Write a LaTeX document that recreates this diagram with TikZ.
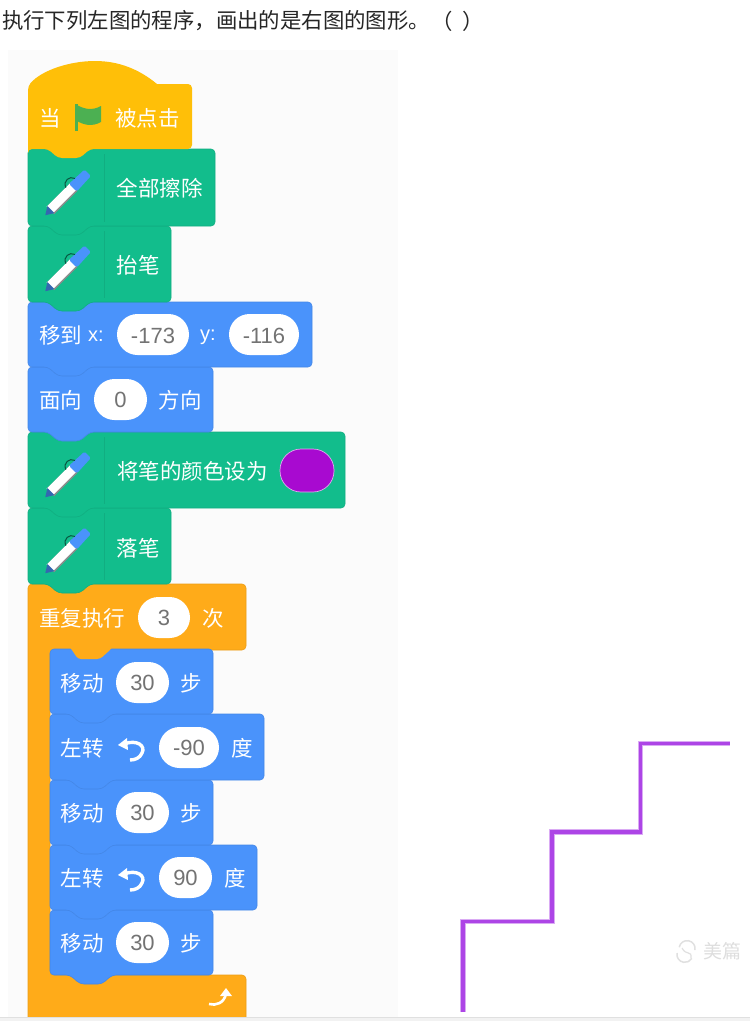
\documentclass[tikz,border=0pt]{standalone}
\usepackage{fontspec}
\setmainfont{Liberation Sans}
\newfontfamily\cjk{Noto Sans CJK SC}
\definecolor{cgreen}{HTML}{12BD8C}
\definecolor{cblue}{HTML}{4A93FB}
\definecolor{corange}{HTML}{FFAB19}
\definecolor{cyellow}{HTML}{FFBF08}
\definecolor{cpurple}{HTML}{A80AD0}
\definecolor{cstair}{HTML}{AD45E6}
\definecolor{cflag}{HTML}{4CB052}
\tikzset{
  lab/.style={inner sep=0pt,text=white,font=\cjk\fontsize{21.5}{24}\selectfont},
  lat/.style={inner sep=0pt,text=white,font=\fontsize{20}{24}\selectfont},
  title/.style={inner sep=0pt,anchor=west,text=black!85,font=\cjk\fontsize{21.4}{24}\selectfont},
  pill/.style={fill=white,rounded corners=20.5pt},
  pilltext/.style={inner sep=0pt,text=black!55,font=\fontsize{22}{24}\selectfont},
  blk/.style={fill=#1,draw=#1!92!black,line width=0.6pt,rounded corners=4pt},
}
% left, top, right, bottom, colour
\newcommand{\stackblock}[5]{%
  \path[blk=#5] (#1,#2) -- (#3,#2) -- (#3,#4)
    -- ({#1+62},#4) -- ({#1+52},{#4+9}) -- ({#1+30},{#4+9}) -- ({#1+20},#4)
    -- (#1,#4) -- cycle;}
% pill: left, top, right, bottom
\newcommand{\valuepill}[4]{\fill[pill] (#1,#2) rectangle (#3,#4);}
\newcommand{\penicon}[1]{%
  \begin{scope}[shift={(66.5,#1)},x={(0.707pt,0.707pt)},y={(-0.707pt,0.707pt)}]
    \fill[black!45] (-23,-5.5) -- (10,-5.5) -- (10,5) -- (-23,5) -- cycle;
    \fill[white] (-23,-4) -- (10,-4) -- (10,5) -- (-23,5) -- cycle;
    \fill[cblue!70!black] (-30,0) -- (-22,-5) -- (-22,5) -- cycle;
    \fill[cblue,rounded corners=1.5pt] (9,-5.5) -- (30,-4.5) -- (30,4.5) -- (9,5.5) -- cycle;
    \draw[black!55!cgreen,line width=1pt] (4,5) .. controls (7,12) and (15,11) .. (17,5);
  \end{scope}}
\newcommand{\turnicon}[1]{%
  \begin{scope}[shift={(0,#1)}]
    \draw[white,line width=3.4pt] (124,-5) .. controls (137,-10) and (146,-3) .. (142,4)
      .. controls (140,9) and (135,11) .. (130,11);
    \fill[white] (118,-4) -- (127,-11) -- (128,1) -- cycle;
  \end{scope}}
\begin{document}
\begin{tikzpicture}[x=1pt,y=-1pt]
\useasboundingbox (0,0) rectangle (750,1021);
\fill[white] (0,0) rectangle (750,1021);
\fill[black!1.5] (8,50) rectangle (398,1017);
\fill[black!5] (0,1017) rectangle (750,1021);
\draw[black!12,line width=0.6pt] (0,1017) -- (750,1017);

\node[title] (titletext) at (2,21) {执行下列左图的程序，画出的是右图的图形。};
\node[title] (parenl) at (431,21) {（};
\node[title] (parenr) at (462,21) {）};

% C-shaped repeat block
\path[blk=corange] (28,584) -- (246,584) -- (246,650) -- (50,650) -- (50,975)
  -- (246,975) -- (246,1030) -- (28,1030) -- cycle;
\fill[black!5] (0,1017.3) rectangle (750,1021);
\draw[black!12,line width=0.6pt] (0,1017) -- (750,1017);

% inner blocks, bottom first
\stackblock{50}{910}{213}{975}{cblue}
\stackblock{50}{845}{257}{910}{cblue}
\stackblock{50}{780}{213}{845}{cblue}
\stackblock{50}{714}{264}{780}{cblue}
\stackblock{50}{649}{213}{714}{cblue}
\fill[corange,rounded corners=3pt] (68,645) -- (72,650) -- (78,659) -- (100,659) -- (110,650) -- (114,645) -- cycle;

% upper stack, bottom first
\stackblock{28}{508}{171}{584}{cgreen}
\stackblock{28}{432}{345}{508}{cgreen}
\stackblock{28}{367}{213}{432}{cblue}
\stackblock{28}{302}{312}{367}{cblue}
\stackblock{28}{226}{171}{302}{cgreen}
\stackblock{28}{149}{215}{226}{cgreen}
% hat block
\path[fill=cyellow,rounded corners=4pt] (28,150) -- (28,86)
  [sharp corners] .. controls (42,70) and (70,61) .. (95,61)
  .. controls (120,61) and (140,70) .. (157,84)
  [rounded corners=4pt] -- (192,84) -- (192,149)
  -- (90,149) -- (80,158) -- (58,158) -- (48,149) -- (28,149) -- cycle;

% dividers
\foreach \ya/\yb in {154/222,231/298,437/504,513/580}
  \draw[cgreen!92!black,line width=0.7pt] (104,\ya) -- (104,\yb);

% hat content
\node[lab] (dang) at (50,118) {当};
\fill[cflag] (74.5,104) rectangle (78,131);
\fill[cflag] (77,105) .. controls (84,109) and (92,111) .. (101,106)
  -- (101,122) .. controls (92,127) and (84,125) .. (77,121) -- cycle;
\node[lab] (clicked) at (147.5,118) {被点击};

\penicon{194}
\node[lab] (erase) at (159.5,188) {全部擦除};
\penicon{270}
\node[lab] (penup) at (138,265) {抬笔};

\node[lab] (goto) at (60.5,335) {移到};
\node[lat] (xlab) at (96,336) {x:};
\valuepill{117}{314}{189}{355}
\node[pilltext] (xval) at (153,336) {-173};
\node[lat] (ylab) at (208,337) {y:};
\valuepill{229}{314}{299}{355}
\node[pilltext] (yval) at (264,336) {-116};

\node[lab] (face) at (60.5,400) {面向};
\valuepill{94}{379}{147}{420}
\node[pilltext] (dirval) at (120.5,400) {0};
\node[lab] (direction) at (180,400) {方向};

\penicon{476}
\node[lab] (setcolor) at (192.5,471) {将笔的颜色设为};
\fill[cpurple,draw=white!65!cpurple,line width=0.7pt,rounded corners=21pt] (280,449) rectangle (334,492);

\penicon{552}
\node[lab] (pendown) at (138,548) {落笔};

\node[lab] (repeat) at (82,618) {重复执行};
\valuepill{138}{597}{190}{638}
\node[pilltext] (repval) at (164,618) {3};
\node[lab] (times) at (213,618) {次};

\node[lab] (mva) at (82,683) {移动};
\valuepill{116}{662}{169}{703}
\node[pilltext] (mvaval) at (142.5,683) {30};
\node[lab] (stepa) at (191,683) {步};

\node[lab] (tla) at (82,748) {左转};
\turnicon{749}
\valuepill{159}{727}{219}{768}
\node[pilltext] (tlaval) at (189,748) {-90};
\node[lab] (dega) at (242,748) {度};

\node[lab] (mvb) at (82,813) {移动};
\valuepill{116}{792}{169}{833}
\node[pilltext] (mvbval) at (142.5,813) {30};
\node[lab] (stepb) at (191,813) {步};

\node[lab] (tlb) at (82,878) {左转};
\turnicon{879}
\valuepill{159}{857}{212}{898}
\node[pilltext] (tlbval) at (185.5,878) {90};
\node[lab] (degb) at (235,878) {度};

\node[lab] (mvc) at (82,943) {移动};
\valuepill{116}{922}{169}{963}
\node[pilltext] (mvcval) at (142.5,943) {30};
\node[lab] (stepc) at (191,943) {步};

% loop arrow
\draw[white,line width=2.6pt] (209,1004) .. controls (216,1006) and (224,1003) .. (226,994);
\fill[white] (220,996) -- (226,988) -- (232,996) -- cycle;

% staircase result
\coordinate (s0) at (463,1012);
\coordinate (s1) at (463,921.5);
\coordinate (s2) at (552,921.5);
\coordinate (s3) at (552,832);
\coordinate (s4) at (640.5,832);
\coordinate (s5) at (640.5,743.5);
\coordinate (s6) at (730,743.5);
\draw[cstair!45!white,line width=5.6pt] (s0) -- (s1) -- (s2) -- (s3) -- (s4) -- (s5) -- (s6);
\draw[cstair,line width=3.2pt] (s0) -- (s1) -- (s2) -- (s3) -- (s4) -- (s5) -- (s6);

% watermark
\draw[black!12,line width=1.5pt] (677,953) arc (190:30:8) (695,950) arc (10:-170:8);
\draw[black!12,line width=1.2pt] (682,948) .. controls (686,956) and (692,950) .. (691,958);
\node[inner sep=0pt,text=black!13,font=\cjk\fontsize{19}{20}\selectfont] (wm) at (722,951) {美篇};
\end{tikzpicture}
\end{document}
